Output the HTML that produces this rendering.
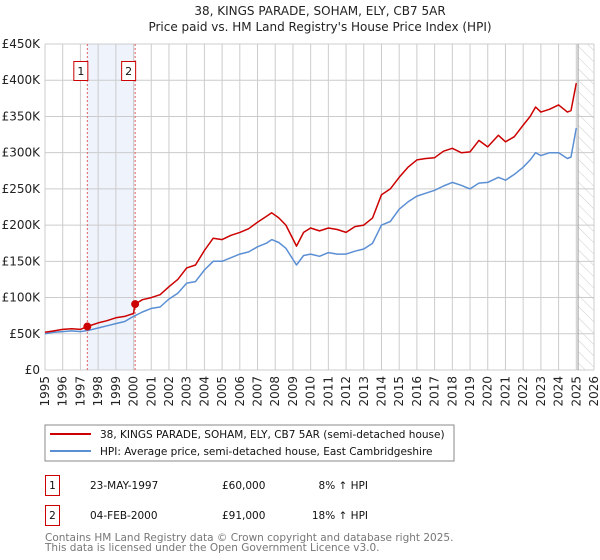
<!DOCTYPE html>
<html><head><meta charset="utf-8">
<style>
body{margin:0;background:#fff;font-family:"DejaVu Sans","Liberation Sans",sans-serif;}
svg{display:block}
</style></head>
<body>
<svg id="chart" width="600" height="560" xmlns="http://www.w3.org/2000/svg" font-family="DejaVu Sans, Liberation Sans, sans-serif">
<text x="320" y="15" font-size="12" text-anchor="middle" fill="#222">38, KINGS PARADE, SOHAM, ELY, CB7 5AR</text>
<text x="320" y="31" font-size="12" text-anchor="middle" fill="#222">Price paid vs. HM Land Registry's House Price Index (HPI)</text>
<g id="grid"></g>
<g id="marks"></g>
<g id="axes"></g>
<g>
<rect x="45" y="425" width="409" height="36" fill="#fff" stroke="#888" stroke-width="1"/>
<line x1="50" y1="434" x2="91" y2="434" stroke="#cc0000" stroke-width="2"/>
<text x="100" y="438" font-size="10.5" fill="#111">38, KINGS PARADE, SOHAM, ELY, CB7 5AR (semi-detached house)</text>
<line x1="50" y1="451" x2="91" y2="451" stroke="#5b8fd4" stroke-width="2"/>
<text x="100" y="455" font-size="10.5" fill="#111">HPI: Average price, semi-detached house, East Cambridgeshire</text>
</g>
<g font-size="10.5" fill="#111">
<rect x="45.5" y="475.5" width="14" height="20" fill="#fff" stroke="#cc0000"/>
<text x="52.5" y="489" text-anchor="middle">1</text>
<text x="90" y="489">23-MAY-1997</text>
<text x="222" y="489">£60,000</text>
<text x="368" y="489" text-anchor="end">8% ↑ HPI</text>
<rect x="45.5" y="505.5" width="14" height="20" fill="#fff" stroke="#cc0000"/>
<text x="52.5" y="519" text-anchor="middle">2</text>
<text x="90" y="519">04-FEB-2000</text>
<text x="222" y="519">£91,000</text>
<text x="368" y="519" text-anchor="end">18% ↑ HPI</text>
</g>
<text x="45" y="541" font-size="10.5" fill="#777">Contains HM Land Registry data © Crown copyright and database right 2025.</text>
<text x="45" y="551" font-size="10.5" fill="#777">This data is licensed under the Open Government Licence v3.0.</text>
</svg>
<script>
const yTicks=[0,50000,100000,150000,200000,250000,300000,350000,400000,450000];
const yTickLabels=["£0","£50K","£100K","£150K","£200K","£250K","£300K","£350K","£400K","£450K"];
const xYears=[1995,1996,1997,1998,1999,2000,2001,2002,2003,2004,2005,2006,2007,2008,2009,2010,2011,2012,2013,2014,2015,2016,2017,2018,2019,2020,2021,2022,2023,2024,2025,2026];
const propYears=[1995,1995.5,1996,1996.5,1997,1997.39,1998,1998.5,1999,1999.5,2000,2000.09,2000.5,2001,2001.5,2002,2002.5,2003,2003.5,2004,2004.5,2005,2005.5,2006,2006.5,2007,2007.5,2007.8,2008.2,2008.6,2009.2,2009.6,2010,2010.5,2011,2011.5,2012,2012.5,2013,2013.5,2014,2014.5,2015,2015.5,2016,2016.5,2017,2017.5,2018,2018.5,2019,2019.5,2020,2020.6,2021,2021.5,2022,2022.4,2022.7,2023,2023.5,2024,2024.5,2024.7,2025];
const propValues=[52000,54000,56000,57000,56000,60000,65000,68000,72000,74000,78000,91000,97000,100000,104000,115000,125000,141000,145000,165000,182000,180000,186000,190000,195000,204000,212000,217000,210000,200000,171000,190000,196000,192000,196000,194000,190000,198000,200000,210000,242000,250000,266000,280000,290000,292000,293000,302000,306000,300000,301000,317000,308000,324000,315000,322000,338000,350000,363000,356000,360000,366000,356000,358000,396000];
const hpiYears=[1995,1995.5,1996,1996.5,1997,1997.5,1998,1998.5,1999,1999.5,2000,2000.5,2001,2001.5,2002,2002.5,2003,2003.5,2004,2004.5,2005,2005.5,2006,2006.5,2007,2007.5,2007.8,2008.2,2008.6,2009.2,2009.6,2010,2010.5,2011,2011.5,2012,2012.5,2013,2013.5,2014,2014.5,2015,2015.5,2016,2016.5,2017,2017.5,2018,2018.5,2019,2019.5,2020,2020.6,2021,2021.5,2022,2022.4,2022.7,2023,2023.5,2024,2024.5,2024.7,2025];
const hpiValues=[50000,52000,53000,54000,53000,55000,58000,61000,64000,67000,74000,80000,85000,87000,98000,106000,120000,122000,138000,150000,150000,155000,160000,163000,170000,175000,180000,176000,168000,145000,158000,160000,157000,162000,160000,160000,164000,167000,175000,200000,205000,222000,232000,240000,244000,248000,254000,259000,255000,250000,258000,259000,266000,262000,270000,280000,290000,300000,296000,300000,300000,292000,294000,334000];
const sales=[{n:"1",year:1997.39,value:60000},{n:"2",year:2000.09,value:91000}];

const NS="http://www.w3.org/2000/svg";
const X0=45,X1=594,Y0=370,Y1=44,YMIN=1995,YMAX=2026,VMAX=450000;
const xs=y=>X0+(y-YMIN)/(YMAX-YMIN)*(X1-X0);
const ys=v=>Y0-v/VMAX*(Y0-Y1);
function mk(tag,attrs,parent){const e=document.createElementNS(NS,tag);for(const k in attrs)e.setAttribute(k,attrs[k]);parent.appendChild(e);return e;}
const grid=document.getElementById('grid'),marks=document.getElementById('marks'),axes=document.getElementById('axes');

// shaded region between sales
const shade=mk('rect',{x:xs(sales[0].year),y:Y1,width:xs(sales[1].year)-xs(sales[0].year),height:Y0-Y1,fill:'#eef3fc'},grid);


// hatch for future
const defs=mk('defs',{},grid);
const pat=mk('pattern',{id:'hatch',width:8,height:8,patternUnits:'userSpaceOnUse',patternTransform:'rotate(-45)'},defs);
mk('line',{x1:0,y1:0,x2:0,y2:8,stroke:'#ccc','stroke-width':1},pat);
const hatch=mk('rect',{x:xs(2025.1),y:Y1,width:X1-xs(2025.1),height:Y0-Y1,fill:'url(#hatch)'},grid);



yTicks.forEach((t,i)=>{
  const l=mk('line',{x1:X0,x2:X1,y1:ys(t),y2:ys(t),stroke:'#ccc','stroke-width':1},grid);
  
  
  const tx=mk('text',{x:X0-5,y:ys(t)+4,'font-size':12,'text-anchor':'end',fill:'#222'},axes);
  tx.textContent=yTickLabels[i];
  
  
});
xYears.forEach(yr=>{
  const l=mk('line',{x1:xs(yr),x2:xs(yr),y1:Y1,y2:Y0,stroke:'#ccc','stroke-width':1},grid);
  
  
  const tx=mk('text',{x:0,y:0,'font-size':12,'text-anchor':'end',fill:'#222',transform:`translate(${xs(yr)+4},${Y0+6}) rotate(-90)`},axes);
  tx.textContent=yr;
  
  
});
const vl=mk('line',{x1:xs(2025.1),x2:xs(2025.1),y1:Y1,y2:Y0,stroke:'#999','stroke-width':1},grid);



sales.forEach(s=>{
  const l=mk('line',{x1:xs(s.year),x2:xs(s.year),y1:Y1,y2:Y0,stroke:'#e06060','stroke-width':1,'stroke-dasharray':'2,2'},marks);
  
  
  mk('rect',{x:xs(s.year)-13.5,y:61.5,width:14,height:19,fill:'#fff',stroke:'#cc0000'},marks);
  const t=mk('text',{x:xs(s.year)-6.5,y:75,'font-size':11,'text-anchor':'middle',fill:'#111'},marks);
  t.textContent=s.n;
  
  
});

function line(xsArr,vals,color,name){
  const d=xsArr.map((y,i)=>(i?'L':'M')+xs(y).toFixed(1)+','+ys(vals[i]).toFixed(1)).join(' ');
  const p=mk('path',{d:d,fill:'none',stroke:color,'stroke-width':1.5,'stroke-linejoin':'round'},marks);
  
  
}
line(hpiYears,hpiValues,'#5b8fd4','hpi-line');
line(propYears,propValues,'#cc0000','property-price-line');
sales.forEach(s=>{
  const c=mk('circle',{cx:xs(s.year),cy:ys(s.value),r:4,fill:'#cc0000'},marks);
  
  
});
</script>
</body></html>
